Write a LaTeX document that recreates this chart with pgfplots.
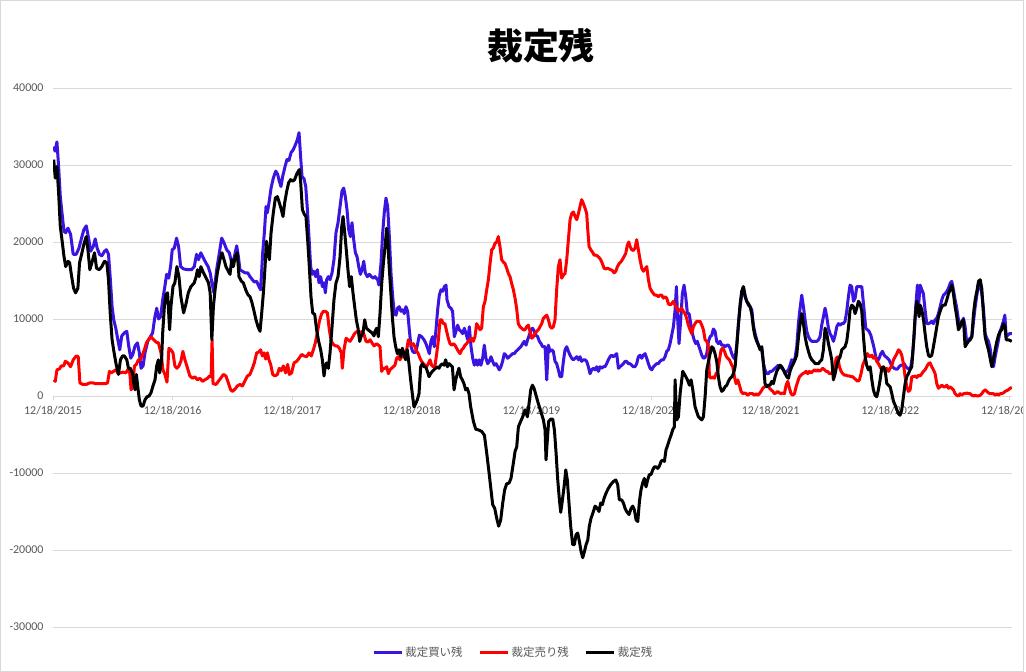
\documentclass[border=0pt]{standalone}
\usepackage{fontspec}
\setmainfont{Carlito}
\newfontfamily\cjk{Noto Sans CJK JP}
\usepackage{pgfplots}
\usepackage{pgfplotstable}
\pgfplotsset{compat=1.18}
\definecolor{gridgray}{HTML}{D9D9D9}
\definecolor{labgray}{HTML}{595959}
\definecolor{serblue}{RGB}{60,20,225}
\definecolor{serred}{RGB}{255,0,0}

\pgfplotstableread[row sep=\\]{x y\\
0.006 32400\\ 0.017 31800\\ 0.033 33000\\ 0.047 29800\\ 0.061 25900\\ 0.075 23800\\ 0.092 21400\\ 0.106 21200\\ 0.125 21800\\ 0.147 21000\\
0.169 18400\\ 0.194 18400\\ 0.217 19200\\ 0.242 20700\\ 0.258 21600\\ 0.278 22100\\ 0.300 20300\\ 0.314 18800\\ 0.336 19400\\ 0.353 20400\\
0.369 19200\\ 0.389 18400\\ 0.408 18200\\ 0.431 18800\\ 0.447 19000\\ 0.464 18400\\ 0.478 15500\\ 0.494 11600\\ 0.508 9900\\ 0.525 8800\\
0.542 7300\\ 0.558 6000\\ 0.575 7800\\ 0.597 8200\\ 0.617 8400\\ 0.633 6500\\ 0.650 4900\\ 0.667 5400\\ 0.686 6500\\ 0.706 6900\\
0.722 5600\\ 0.736 3600\\ 0.753 3900\\ 0.769 5600\\ 0.792 7100\\ 0.814 7700\\ 0.833 8200\\ 0.850 10100\\ 0.867 11400\\ 0.883 10000\\
0.900 10300\\ 0.917 12500\\ 0.933 14000\\ 0.950 15800\\ 0.967 15300\\ 0.983 16800\\ 0.997 19000\\ 1.014 19200\\ 1.033 20500\\ 1.050 19400\\
1.067 16800\\ 1.092 16500\\ 1.125 16400\\ 1.158 16400\\ 1.181 16800\\ 1.200 18400\\ 1.217 17700\\ 1.236 18600\\ 1.258 17900\\ 1.278 17300\\
1.297 16800\\ 1.314 16000\\ 1.328 14700\\ 1.346 13400\\ 1.368 16400\\ 1.391 18600\\ 1.410 20500\\ 1.430 19900\\ 1.452 19000\\ 1.474 18600\\
1.488 17700\\ 1.502 16800\\ 1.516 18100\\ 1.536 19500\\ 1.550 18100\\ 1.563 16400\\ 1.583 16200\\ 1.605 16000\\ 1.628 16000\\ 1.647 15500\\
1.667 15100\\ 1.683 14800\\ 1.703 14900\\ 1.722 14200\\ 1.736 13800\\ 1.753 18600\\ 1.767 21200\\ 1.781 24600\\ 1.792 23800\\ 1.806 25100\\
1.823 27000\\ 1.842 28300\\ 1.862 29200\\ 1.878 28800\\ 1.892 27900\\ 1.906 27200\\ 1.920 28500\\ 1.940 29800\\ 1.956 30700\\ 1.973 30600\\
1.990 31600\\ 2.009 32000\\ 2.026 32600\\ 2.043 33300\\ 2.057 34200\\ 2.071 30900\\ 2.082 28500\\ 2.099 28200\\ 2.113 27200\\ 2.127 24200\\
2.140 20700\\ 2.154 16800\\ 2.168 15800\\ 2.182 16200\\ 2.196 15500\\ 2.210 16400\\ 2.224 14700\\ 2.238 15500\\ 2.252 14200\\ 2.266 14700\\
2.277 13400\\ 2.288 15100\\ 2.302 15500\\ 2.316 15100\\ 2.333 16000\\ 2.349 17700\\ 2.366 21200\\ 2.383 22500\\ 2.400 24600\\ 2.416 26600\\
2.430 27000\\ 2.444 25900\\ 2.458 24200\\ 2.472 21600\\ 2.486 20700\\ 2.500 22500\\ 2.514 20300\\ 2.528 18600\\ 2.542 18100\\ 2.556 16800\\
2.570 15800\\ 2.584 16400\\ 2.598 17500\\ 2.611 16000\\ 2.628 15500\\ 2.645 15800\\ 2.662 15500\\ 2.678 15300\\ 2.692 15500\\ 2.714 15100\\
2.725 14400\\ 2.742 17200\\ 2.756 21100\\ 2.770 23900\\ 2.784 25700\\ 2.798 24600\\ 2.812 20700\\ 2.826 15900\\ 2.840 12900\\ 2.854 10700\\
2.868 10500\\ 2.881 11400\\ 2.895 11600\\ 2.909 11000\\ 2.923 11200\\ 2.937 10700\\ 2.951 11600\\ 2.965 11000\\ 2.979 8600\\ 2.993 6400\\
3.007 5800\\ 3.021 5600\\ 3.035 5800\\ 3.049 6800\\ 3.063 7900\\ 3.082 7700\\ 3.102 7300\\ 3.118 6800\\ 3.132 6200\\ 3.146 5500\\
3.160 7100\\ 3.174 7700\\ 3.188 6400\\ 3.202 8600\\ 3.216 11200\\ 3.230 13100\\ 3.244 13800\\ 3.258 13600\\ 3.272 14200\\ 3.286 14400\\
3.294 12500\\ 3.311 11600\\ 3.327 11400\\ 3.341 11000\\ 3.355 7700\\ 3.369 8400\\ 3.383 9200\\ 3.397 8600\\ 3.411 8400\\ 3.425 8100\\
3.439 8800\\ 3.453 8100\\ 3.467 7300\\ 3.481 9000\\ 3.495 6400\\ 3.509 4900\\ 3.523 4000\\ 3.537 4700\\ 3.550 4000\\ 3.564 4700\\
3.578 4000\\ 3.592 4900\\ 3.606 6600\\ 3.620 4900\\ 3.634 4200\\ 3.648 4500\\ 3.662 5100\\ 3.676 4500\\ 3.690 4000\\ 3.704 4200\\
3.718 3800\\ 3.731 3400\\ 3.745 3800\\ 3.759 4500\\ 3.773 5500\\ 3.787 5300\\ 3.801 4900\\ 3.815 5100\\ 3.829 5300\\ 3.843 5500\\
3.857 5500\\ 3.871 5800\\ 3.885 6000\\ 3.898 6200\\ 3.912 6400\\ 3.927 6800\\ 3.940 7100\\ 3.955 6600\\ 3.968 7300\\ 3.982 7900\\
3.996 8600\\ 4.010 8800\\ 4.024 8400\\ 4.038 7900\\ 4.052 7700\\ 4.066 7100\\ 4.080 6800\\ 4.094 6400\\ 4.114 6400\\ 4.128 2100\\
4.142 6600\\ 4.156 5800\\ 4.170 6000\\ 4.183 5800\\ 4.197 4500\\ 4.211 4200\\ 4.225 3400\\ 4.239 2500\\ 4.253 2500\\ 4.267 4500\\
4.281 6000\\ 4.295 6400\\ 4.309 5800\\ 4.323 5300\\ 4.337 4900\\ 4.351 4700\\ 4.365 4900\\ 4.379 5100\\ 4.393 4700\\ 4.406 5100\\
4.420 4500\\ 4.434 4700\\ 4.448 4700\\ 4.462 4500\\ 4.476 3800\\ 4.490 2900\\ 4.504 3400\\ 4.518 3600\\ 4.532 3400\\ 4.546 3800\\
4.560 3200\\ 4.574 3800\\ 4.588 3600\\ 4.601 3800\\ 4.615 3800\\ 4.629 4200\\ 4.643 4700\\ 4.657 5100\\ 4.671 5300\\ 4.685 5100\\
4.699 5300\\ 4.713 5500\\ 4.727 3600\\ 4.741 3800\\ 4.755 4000\\ 4.769 4200\\ 4.783 4500\\ 4.796 4500\\ 4.810 4200\\ 4.824 4200\\
4.838 4000\\ 4.852 3800\\ 4.866 3800\\ 4.880 4200\\ 4.894 5100\\ 4.908 5300\\ 4.922 4900\\ 4.936 5300\\ 4.950 5500\\ 4.964 4900\\
4.978 4200\\ 4.992 3600\\ 5.006 3400\\ 5.020 3800\\ 5.033 4000\\ 5.047 4200\\ 5.061 4200\\ 5.075 4500\\ 5.089 4700\\ 5.103 4700\\
5.117 5100\\ 5.131 5800\\ 5.145 6000\\ 5.159 6800\\ 5.173 7900\\ 5.187 9000\\ 5.201 11200\\ 5.212 14200\\ 5.223 9900\\ 5.234 6800\\
5.248 9900\\ 5.262 13300\\ 5.276 14400\\ 5.290 12900\\ 5.304 10700\\ 5.318 10700\\ 5.332 9400\\ 5.346 8100\\ 5.360 7300\\ 5.374 6800\\
5.387 7100\\ 5.401 6400\\ 5.410 6000\\ 5.424 5300\\ 5.438 4900\\ 5.452 5000\\ 5.466 5500\\ 5.480 7100\\ 5.494 7700\\ 5.508 7900\\
5.521 8700\\ 5.535 8400\\ 5.549 7100\\ 5.563 6800\\ 5.577 7100\\ 5.591 6600\\ 5.605 6600\\ 5.619 6400\\ 5.633 6600\\ 5.647 6600\\
5.661 6200\\ 5.675 5500\\ 5.689 5000\\ 5.703 4800\\ 5.717 6800\\ 5.731 9400\\ 5.745 11600\\ 5.758 13100\\ 5.772 14200\\ 5.786 13100\\
5.800 12300\\ 5.814 11800\\ 5.828 11600\\ 5.842 11200\\ 5.856 9200\\ 5.870 8100\\ 5.884 7300\\ 5.898 6600\\ 5.912 6200\\ 5.926 6000\\
5.940 4200\\ 5.953 3400\\ 5.967 2900\\ 5.981 2900\\ 5.995 3200\\ 6.009 3200\\ 6.023 3400\\ 6.037 3600\\ 6.051 3800\\ 6.065 4000\\
6.079 3800\\ 6.093 3600\\ 6.107 3400\\ 6.121 2900\\ 6.135 3200\\ 6.149 3400\\ 6.162 4000\\ 6.176 4700\\ 6.190 4500\\ 6.204 4900\\
6.218 6400\\ 6.232 9400\\ 6.246 11400\\ 6.260 13100\\ 6.274 11600\\ 6.288 9900\\ 6.302 8400\\ 6.316 7700\\ 6.330 7300\\ 6.344 7100\\
6.358 7100\\ 6.372 7100\\ 6.386 7100\\ 6.400 7300\\ 6.413 7700\\ 6.427 9200\\ 6.441 10300\\ 6.455 11400\\ 6.469 10300\\ 6.483 8800\\
6.497 8100\\ 6.511 7700\\ 6.525 7100\\ 6.539 7900\\ 6.553 9000\\ 6.567 9400\\ 6.581 9200\\ 6.595 9400\\ 6.608 9400\\ 6.622 9700\\
6.636 11000\\ 6.650 12900\\ 6.664 14400\\ 6.678 14200\\ 6.692 12300\\ 6.706 12700\\ 6.720 14200\\ 6.734 14200\\ 6.748 14200\\ 6.762 14200\\
6.781 11200\\ 6.795 8800\\ 6.809 8600\\ 6.823 8400\\ 6.837 7900\\ 6.851 7100\\ 6.865 6200\\ 6.879 5100\\ 6.893 4500\\ 6.907 4900\\
6.921 5500\\ 6.935 5800\\ 6.949 5300\\ 6.963 5100\\ 6.977 4900\\ 6.990 4700\\ 7.004 4200\\ 7.018 3800\\ 7.032 3600\\ 7.046 3500\\
7.060 3500\\ 7.074 3800\\ 7.088 4000\\ 7.102 4000\\ 7.116 4200\\ 7.130 3800\\ 7.144 3600\\ 7.158 3500\\ 7.172 3800\\ 7.186 5300\\
7.200 7900\\ 7.213 11600\\ 7.227 14400\\ 7.238 12000\\ 7.250 14400\\ 7.264 13800\\ 7.277 13300\\ 7.291 11200\\ 7.305 9400\\ 7.319 9400\\
7.333 9500\\ 7.347 9700\\ 7.361 9400\\ 7.375 9900\\ 7.389 10100\\ 7.403 10700\\ 7.417 11600\\ 7.431 12500\\ 7.445 13100\\ 7.459 13300\\
7.473 13600\\ 7.487 14000\\ 7.500 14600\\ 7.514 14900\\ 7.528 13800\\ 7.542 12500\\ 7.556 11400\\ 7.570 9900\\ 7.584 9000\\ 7.598 9400\\
7.612 10100\\ 7.626 9000\\ 7.640 6800\\ 7.654 7300\\ 7.668 7500\\ 7.682 7700\\ 7.696 9700\\ 7.710 11600\\ 7.724 13100\\ 7.738 14600\\
7.752 14400\\ 7.765 13300\\ 7.779 11400\\ 7.793 8100\\ 7.807 7500\\ 7.821 7100\\ 7.835 6200\\ 7.849 4700\\ 7.863 3800\\ 7.877 5100\\
7.891 6200\\ 7.905 7300\\ 7.919 8400\\ 7.932 9000\\ 7.946 9700\\ 7.958 10500\\ 7.969 7700\\ 7.983 7900\\ 7.997 8100\\ 8.017 8100\\
}\tblue

\pgfplotstableread[row sep=\\]{x y\\
0.006 2100\\ 0.019 1900\\ 0.033 3400\\ 0.053 3500\\ 0.069 3900\\ 0.089 3900\\ 0.103 4500\\ 0.125 4300\\ 0.147 3800\\ 0.169 4700\\
0.194 5200\\ 0.211 5100\\ 0.225 1700\\ 0.250 1500\\ 0.278 1500\\ 0.306 1700\\ 0.333 1700\\ 0.361 1600\\ 0.389 1600\\ 0.417 1600\\
0.439 1600\\ 0.456 1700\\ 0.472 3200\\ 0.486 3000\\ 0.506 3200\\ 0.525 3400\\ 0.542 3000\\ 0.564 3000\\ 0.586 3100\\ 0.608 3000\\
0.625 3400\\ 0.642 3000\\ 0.653 800\\ 0.667 1300\\ 0.681 3900\\ 0.697 4100\\ 0.714 4700\\ 0.731 4700\\ 0.744 5200\\ 0.764 6000\\
0.781 6900\\ 0.803 7400\\ 0.819 7700\\ 0.842 7300\\ 0.861 7000\\ 0.881 6900\\ 0.903 5600\\ 0.919 3400\\ 0.936 2800\\ 0.953 1800\\
0.969 6200\\ 0.986 6000\\ 1.003 5600\\ 1.019 3900\\ 1.036 3600\\ 1.053 3900\\ 1.069 4500\\ 1.086 5800\\ 1.103 4700\\ 1.125 3600\\
1.144 2600\\ 1.167 2300\\ 1.186 2500\\ 1.208 2100\\ 1.228 2300\\ 1.250 1900\\ 1.269 2100\\ 1.292 2300\\ 1.308 2600\\ 1.322 2500\\
1.330 7300\\ 1.338 1600\\ 1.363 1500\\ 1.382 1900\\ 1.402 2300\\ 1.424 2800\\ 1.446 2600\\ 1.466 1700\\ 1.485 800\\ 1.502 600\\
1.522 900\\ 1.541 1300\\ 1.563 1500\\ 1.583 1300\\ 1.603 1900\\ 1.625 2600\\ 1.647 2800\\ 1.667 3600\\ 1.683 4300\\ 1.703 5600\\
1.720 5700\\ 1.736 6000\\ 1.750 5200\\ 1.764 5600\\ 1.778 4800\\ 1.792 5600\\ 1.806 4700\\ 1.820 4100\\ 1.837 2800\\ 1.856 2600\\
1.876 2800\\ 1.892 3600\\ 1.909 3300\\ 1.926 3900\\ 1.945 3000\\ 1.962 4100\\ 1.976 2800\\ 1.995 3000\\ 2.015 4300\\ 2.037 4500\\
2.057 4900\\ 2.079 5400\\ 2.099 5200\\ 2.121 5100\\ 2.140 5600\\ 2.160 5200\\ 2.177 6000\\ 2.193 6900\\ 2.210 8200\\ 2.227 9700\\
2.244 10600\\ 2.260 11000\\ 2.277 11000\\ 2.294 10800\\ 2.310 8600\\ 2.327 7100\\ 2.344 6700\\ 2.361 6500\\ 2.377 6500\\ 2.394 6200\\
2.411 5600\\ 2.419 3600\\ 2.433 6000\\ 2.450 7500\\ 2.466 7300\\ 2.483 7100\\ 2.500 7500\\ 2.517 8000\\ 2.533 8300\\ 2.550 8400\\
2.567 8200\\ 2.584 8400\\ 2.600 8000\\ 2.617 7100\\ 2.634 7000\\ 2.651 7300\\ 2.667 6900\\ 2.684 6500\\ 2.706 6800\\ 2.720 6600\\
2.734 6400\\ 2.748 3200\\ 2.762 3600\\ 2.776 3600\\ 2.790 3800\\ 2.804 2900\\ 2.817 3400\\ 2.831 3600\\ 2.845 3800\\ 2.859 4000\\
2.873 4900\\ 2.887 5100\\ 2.901 4700\\ 2.915 5100\\ 2.929 5300\\ 2.943 4900\\ 2.957 6000\\ 2.971 7300\\ 2.985 6800\\ 2.998 6600\\
3.012 6800\\ 3.026 6400\\ 3.040 5800\\ 3.054 5500\\ 3.068 4900\\ 3.082 4500\\ 3.096 4200\\ 3.110 4000\\ 3.124 3800\\ 3.138 4200\\
3.152 4700\\ 3.166 4000\\ 3.180 3800\\ 3.194 4000\\ 3.208 5500\\ 3.222 7300\\ 3.236 9900\\ 3.249 9900\\ 3.263 9400\\ 3.277 9400\\
3.291 8400\\ 3.305 7500\\ 3.319 6800\\ 3.333 6600\\ 3.347 6800\\ 3.361 6600\\ 3.375 6200\\ 3.389 5800\\ 3.403 5500\\ 3.417 6000\\
3.431 6200\\ 3.444 6600\\ 3.458 6800\\ 3.472 7100\\ 3.486 7300\\ 3.500 7500\\ 3.514 7100\\ 3.528 7700\\ 3.542 9400\\ 3.556 9000\\
3.570 8600\\ 3.584 8800\\ 3.598 11600\\ 3.612 12300\\ 3.626 13800\\ 3.640 15100\\ 3.654 17200\\ 3.668 19000\\ 3.681 19200\\ 3.695 19800\\
3.709 20000\\ 3.723 20700\\ 3.737 19400\\ 3.751 17700\\ 3.765 17400\\ 3.779 17200\\ 3.793 16600\\ 3.807 15900\\ 3.821 15500\\ 3.835 14600\\
3.849 13800\\ 3.863 12700\\ 3.876 11400\\ 3.890 9400\\ 3.904 9000\\ 3.918 8800\\ 3.932 8600\\ 3.946 8600\\ 3.960 9000\\ 3.974 9200\\
3.988 8400\\ 4.002 7500\\ 4.016 7700\\ 4.030 8100\\ 4.044 8400\\ 4.058 8600\\ 4.072 9000\\ 4.086 9400\\ 4.100 10100\\ 4.114 10300\\
4.128 10500\\ 4.142 9900\\ 4.156 9000\\ 4.170 8800\\ 4.183 9000\\ 4.197 9900\\ 4.211 13800\\ 4.225 16800\\ 4.239 17700\\ 4.253 15300\\
4.267 15700\\ 4.281 15900\\ 4.295 17700\\ 4.309 20300\\ 4.323 22900\\ 4.337 23700\\ 4.351 23900\\ 4.365 23300\\ 4.379 22900\\ 4.393 23700\\
4.406 24600\\ 4.420 25500\\ 4.434 25000\\ 4.448 24400\\ 4.462 23700\\ 4.471 21600\\ 4.482 19400\\ 4.496 19000\\ 4.510 18700\\ 4.524 18300\\
4.537 18300\\ 4.551 18200\\ 4.565 18000\\ 4.579 17700\\ 4.593 17200\\ 4.607 16600\\ 4.621 16500\\ 4.635 16600\\ 4.649 16500\\ 4.663 16400\\
4.677 16300\\ 4.691 16000\\ 4.705 16200\\ 4.719 16800\\ 4.733 17200\\ 4.747 17400\\ 4.760 17700\\ 4.774 18100\\ 4.788 18500\\ 4.802 19600\\
4.814 20000\\ 4.825 19400\\ 4.838 19000\\ 4.852 18900\\ 4.866 19200\\ 4.880 20300\\ 4.894 19000\\ 4.908 17700\\ 4.922 16600\\ 4.936 16200\\
4.950 16500\\ 4.964 16800\\ 4.978 15100\\ 4.992 14000\\ 5.006 13600\\ 5.020 13300\\ 5.033 13100\\ 5.047 13100\\ 5.061 12900\\ 5.075 13100\\
5.089 13100\\ 5.103 12700\\ 5.117 12900\\ 5.131 12700\\ 5.145 12000\\ 5.159 11800\\ 5.173 12000\\ 5.187 12300\\ 5.201 11800\\ 5.215 11400\\
5.228 11000\\ 5.242 11200\\ 5.256 11400\\ 5.270 11000\\ 5.284 10700\\ 5.298 10100\\ 5.312 9200\\ 5.326 8600\\ 5.340 8100\\ 5.354 9000\\
5.368 9400\\ 5.382 9700\\ 5.396 9700\\ 5.410 9700\\ 5.424 9200\\ 5.438 8600\\ 5.452 7300\\ 5.466 7100\\ 5.480 6400\\ 5.488 2500\\
5.502 2300\\ 5.516 2500\\ 5.530 2300\\ 5.544 2900\\ 5.558 3200\\ 5.572 4700\\ 5.586 6000\\ 5.600 6200\\ 5.614 5800\\ 5.627 5200\\
5.641 4900\\ 5.655 4700\\ 5.669 4200\\ 5.683 3800\\ 5.697 2500\\ 5.711 1600\\ 5.725 2100\\ 5.739 1400\\ 5.753 600\\ 5.767 300\\
5.781 400\\ 5.795 300\\ 5.809 100\\ 5.822 300\\ 5.836 300\\ 5.850 300\\ 5.864 100\\ 5.878 300\\ 5.892 100\\ 5.906 300\\
5.920 600\\ 5.934 1000\\ 5.948 1200\\ 5.962 1300\\ 5.976 1400\\ 5.990 1000\\ 6.004 800\\ 6.018 600\\ 6.031 300\\ 6.045 400\\
6.059 600\\ 6.073 400\\ 6.087 300\\ 6.101 400\\ 6.115 300\\ 6.129 1400\\ 6.143 1900\\ 6.157 1000\\ 6.171 300\\ 6.185 100\\
6.199 300\\ 6.213 1200\\ 6.227 1900\\ 6.241 2500\\ 6.254 2700\\ 6.268 2900\\ 6.282 3000\\ 6.296 3200\\ 6.310 2900\\ 6.324 3200\\
6.338 3000\\ 6.352 3200\\ 6.366 3400\\ 6.380 3200\\ 6.394 3400\\ 6.408 3200\\ 6.422 3400\\ 6.436 3600\\ 6.450 3400\\ 6.463 3200\\
6.477 3200\\ 6.491 2900\\ 6.505 2900\\ 6.519 3200\\ 6.533 3400\\ 6.547 4900\\ 6.561 5100\\ 6.575 3800\\ 6.589 3200\\ 6.603 2900\\
6.617 2700\\ 6.631 2700\\ 6.645 2600\\ 6.659 2600\\ 6.672 2500\\ 6.686 2500\\ 6.700 2300\\ 6.714 2100\\ 6.728 1900\\ 6.742 2100\\
6.756 2900\\ 6.770 4000\\ 6.790 4800\\ 6.809 5500\\ 6.826 5100\\ 6.846 5300\\ 6.859 4900\\ 6.873 5100\\ 6.887 4500\\ 6.901 4200\\
6.915 3800\\ 6.929 3400\\ 6.943 3200\\ 6.957 3400\\ 6.971 3600\\ 6.985 3200\\ 6.999 3600\\ 7.013 4000\\ 7.027 4700\\ 7.041 5100\\
7.055 5500\\ 7.069 6000\\ 7.082 5800\\ 7.096 5300\\ 7.110 4200\\ 7.124 2500\\ 7.138 1200\\ 7.152 600\\ 7.166 800\\ 7.180 2500\\
7.194 2500\\ 7.208 2600\\ 7.222 2400\\ 7.236 2700\\ 7.250 2600\\ 7.264 2900\\ 7.278 3200\\ 7.291 3400\\ 7.305 3800\\ 7.319 4200\\
7.333 4300\\ 7.347 3800\\ 7.361 3400\\ 7.375 2900\\ 7.389 1600\\ 7.403 1000\\ 7.417 1200\\ 7.431 1400\\ 7.445 1200\\ 7.459 1200\\
7.473 1400\\ 7.487 1000\\ 7.500 1200\\ 7.514 1000\\ 7.528 800\\ 7.542 300\\ 7.556 100\\ 7.570 0\\ 7.584 300\\ 7.598 100\\
7.612 300\\ 7.626 300\\ 7.640 400\\ 7.654 300\\ 7.668 300\\ 7.682 100\\ 7.696 0\\ 7.710 100\\ 7.724 0\\ 7.738 0\\
7.752 100\\ 7.765 300\\ 7.779 600\\ 7.793 800\\ 7.807 600\\ 7.821 400\\ 7.835 300\\ 7.849 300\\ 7.863 300\\ 7.877 100\\
7.891 300\\ 7.905 100\\ 7.919 300\\ 7.932 300\\ 7.946 400\\ 7.960 600\\ 7.974 700\\ 7.988 800\\ 8.002 1000\\ 8.017 1100\\
}\tred

\pgfplotstableread[row sep=\\]{x y\\
0.006 30700\\ 0.019 28300\\ 0.033 29800\\ 0.047 26400\\ 0.061 22000\\ 0.075 20300\\ 0.092 18100\\ 0.106 16800\\ 0.125 17500\\ 0.139 17300\\
0.153 15800\\ 0.172 14000\\ 0.189 13400\\ 0.208 14000\\ 0.222 17300\\ 0.242 18600\\ 0.258 19700\\ 0.278 20700\\ 0.292 19000\\ 0.308 16400\\
0.325 17300\\ 0.347 18600\\ 0.364 16600\\ 0.386 16400\\ 0.408 16800\\ 0.431 17500\\ 0.450 17300\\ 0.464 15100\\ 0.478 10800\\ 0.494 7300\\
0.511 5600\\ 0.528 4100\\ 0.547 2800\\ 0.564 4700\\ 0.581 5200\\ 0.597 5200\\ 0.617 4700\\ 0.631 3600\\ 0.647 3600\\ 0.664 3000\\
0.675 1700\\ 0.686 800\\ 0.697 2800\\ 0.708 1300\\ 0.722 -500\\ 0.736 -1300\\ 0.753 -1300\\ 0.769 -500\\ 0.786 -100\\ 0.803 0\\
0.819 400\\ 0.836 1300\\ 0.853 2100\\ 0.867 3900\\ 0.881 4700\\ 0.892 3000\\ 0.908 4700\\ 0.917 8200\\ 0.931 11600\\ 0.944 13200\\
0.958 13400\\ 0.975 8600\\ 0.986 11600\\ 1.003 14200\\ 1.019 14700\\ 1.036 16800\\ 1.053 15500\\ 1.069 12900\\ 1.092 10800\\ 1.111 11900\\
1.131 13400\\ 1.153 14200\\ 1.181 14700\\ 1.197 15500\\ 1.208 16400\\ 1.222 15500\\ 1.236 16800\\ 1.258 16000\\ 1.281 15300\\ 1.300 14700\\
1.314 13400\\ 1.328 7300\\ 1.341 11600\\ 1.355 13800\\ 1.374 16000\\ 1.396 17700\\ 1.413 18600\\ 1.430 17700\\ 1.446 16800\\ 1.466 16200\\
1.480 15800\\ 1.494 17700\\ 1.508 16800\\ 1.524 18100\\ 1.541 18600\\ 1.555 15500\\ 1.575 14900\\ 1.591 14700\\ 1.611 13800\\ 1.628 13200\\
1.647 12900\\ 1.664 12100\\ 1.681 11000\\ 1.697 9900\\ 1.714 9000\\ 1.731 8400\\ 1.745 10800\\ 1.759 13400\\ 1.773 16800\\ 1.784 20100\\
1.798 18600\\ 1.809 17700\\ 1.823 21200\\ 1.842 23800\\ 1.859 25700\\ 1.876 25900\\ 1.892 25100\\ 1.909 24200\\ 1.923 23300\\ 1.937 25100\\
1.954 26600\\ 1.970 27700\\ 1.987 28100\\ 2.004 27900\\ 2.020 28100\\ 2.037 28800\\ 2.051 29200\\ 2.060 29400\\ 2.071 27700\\ 2.085 24200\\
2.101 23600\\ 2.115 23300\\ 2.129 20300\\ 2.143 16800\\ 2.157 12900\\ 2.171 10800\\ 2.188 10600\\ 2.204 8600\\ 2.221 7100\\ 2.238 6000\\
2.252 4700\\ 2.266 2600\\ 2.277 3900\\ 2.288 4300\\ 2.302 3600\\ 2.316 5600\\ 2.333 9000\\ 2.349 12500\\ 2.366 14700\\ 2.383 15500\\
2.400 18100\\ 2.414 22000\\ 2.425 23300\\ 2.439 21200\\ 2.452 19000\\ 2.466 16400\\ 2.480 14200\\ 2.494 15500\\ 2.508 13400\\ 2.522 11600\\
2.536 9900\\ 2.550 8800\\ 2.564 7100\\ 2.578 7800\\ 2.592 8200\\ 2.606 9900\\ 2.620 8800\\ 2.634 8600\\ 2.651 8400\\ 2.667 8200\\
2.684 7800\\ 2.692 8400\\ 2.706 8800\\ 2.720 7700\\ 2.734 10700\\ 2.748 14600\\ 2.762 17200\\ 2.776 19400\\ 2.790 21800\\ 2.798 20700\\
2.809 17200\\ 2.823 13800\\ 2.837 10300\\ 2.851 7700\\ 2.865 6400\\ 2.879 5500\\ 2.893 6000\\ 2.907 5100\\ 2.921 6200\\ 2.935 5500\\
2.948 4700\\ 2.962 6000\\ 2.976 4200\\ 2.990 2100\\ 3.004 300\\ 3.018 -1400\\ 3.032 -1000\\ 3.046 -500\\ 3.060 300\\ 3.074 3800\\
3.088 4200\\ 3.102 3800\\ 3.116 3800\\ 3.130 3200\\ 3.144 2500\\ 3.157 2900\\ 3.171 3200\\ 3.185 3400\\ 3.199 3600\\ 3.213 3800\\
3.227 3600\\ 3.241 4000\\ 3.255 4200\\ 3.269 4000\\ 3.283 4700\\ 3.297 3800\\ 3.311 4200\\ 3.325 4000\\ 3.339 3800\\ 3.353 800\\
3.367 2100\\ 3.380 2900\\ 3.394 3600\\ 3.408 2500\\ 3.422 2100\\ 3.436 1600\\ 3.450 800\\ 3.464 1000\\ 3.478 300\\ 3.492 -1400\\
3.515 -3300\\ 3.534 -4300\\ 3.556 -4400\\ 3.584 -4600\\ 3.607 -5100\\ 3.626 -7400\\ 3.646 -10000\\ 3.662 -12200\\ 3.676 -14100\\ 3.693 -14600\\
3.710 -15900\\ 3.726 -16900\\ 3.743 -16100\\ 3.760 -13900\\ 3.776 -12200\\ 3.793 -11400\\ 3.813 -11300\\ 3.829 -10700\\ 3.849 -8700\\ 3.863 -7200\\
3.877 -6600\\ 3.891 -4000\\ 3.910 -3300\\ 3.927 -2700\\ 3.947 -1800\\ 3.966 -2700\\ 3.980 -1000\\ 3.994 800\\ 4.008 1400\\ 4.022 1000\\
4.038 100\\ 4.058 -1000\\ 4.078 -2000\\ 4.100 -3100\\ 4.114 -4400\\ 4.122 -8300\\ 4.133 -5700\\ 4.144 -3300\\ 4.161 -3000\\ 4.178 -3000\\
4.192 -4400\\ 4.206 -7400\\ 4.220 -10900\\ 4.234 -13500\\ 4.245 -15100\\ 4.259 -13500\\ 4.273 -11800\\ 4.287 -9600\\ 4.300 -10900\\ 4.314 -13900\\
4.328 -16900\\ 4.345 -19300\\ 4.359 -19300\\ 4.373 -18000\\ 4.387 -17800\\ 4.401 -18900\\ 4.415 -20200\\ 4.429 -21000\\ 4.443 -20200\\ 4.457 -19300\\
4.471 -18700\\ 4.484 -16900\\ 4.498 -15900\\ 4.518 -15000\\ 4.532 -14300\\ 4.546 -14500\\ 4.565 -15000\\ 4.579 -13900\\ 4.593 -14100\\ 4.607 -13300\\
4.624 -12600\\ 4.643 -12000\\ 4.663 -11500\\ 4.685 -11100\\ 4.705 -10900\\ 4.721 -11500\\ 4.735 -13500\\ 4.755 -13500\\ 4.769 -13900\\ 4.783 -14600\\
4.796 -15000\\ 4.816 -15400\\ 4.833 -14600\\ 4.847 -14300\\ 4.861 -14800\\ 4.875 -16100\\ 4.889 -16300\\ 4.903 -13700\\ 4.916 -12200\\ 4.930 -11300\\
4.944 -10700\\ 4.958 -11800\\ 4.972 -10900\\ 4.986 -10200\\ 5.000 -10200\\ 5.014 -9600\\ 5.028 -9200\\ 5.042 -9200\\ 5.056 -9400\\ 5.070 -9100\\
5.084 -8500\\ 5.098 -8300\\ 5.112 -8500\\ 5.125 -7000\\ 5.139 -6400\\ 5.153 -5700\\ 5.167 -5100\\ 5.181 -4400\\ 5.195 -4000\\ 5.201 2100\\
5.215 -3100\\ 5.229 -2700\\ 5.243 300\\ 5.265 3200\\ 5.284 2700\\ 5.304 2100\\ 5.321 1400\\ 5.335 2100\\ 5.349 800\\ 5.368 -1400\\
5.396 -2700\\ 5.424 -3100\\ 5.438 -2700\\ 5.452 -100\\ 5.466 3400\\ 5.488 5100\\ 5.508 6400\\ 5.521 6200\\ 5.535 5500\\ 5.549 4500\\
5.563 2500\\ 5.577 1200\\ 5.591 600\\ 5.605 800\\ 5.619 1200\\ 5.633 1400\\ 5.647 1900\\ 5.661 2300\\ 5.675 2500\\ 5.689 2900\\
5.703 3800\\ 5.717 6400\\ 5.731 9400\\ 5.745 12000\\ 5.758 13600\\ 5.772 14200\\ 5.786 12900\\ 5.800 12300\\ 5.814 12000\\ 5.828 11600\\
5.842 10700\\ 5.856 8800\\ 5.870 7700\\ 5.884 7100\\ 5.898 6600\\ 5.912 6000\\ 5.926 6400\\ 5.940 4200\\ 5.953 1600\\ 5.967 1200\\
5.981 1400\\ 5.995 1400\\ 6.009 1900\\ 6.023 1600\\ 6.037 2500\\ 6.051 3200\\ 6.065 3600\\ 6.079 4000\\ 6.093 3800\\ 6.107 3400\\
6.121 2900\\ 6.135 2500\\ 6.149 2300\\ 6.162 3200\\ 6.176 3800\\ 6.190 4200\\ 6.204 4700\\ 6.218 5300\\ 6.232 7500\\ 6.246 9400\\
6.260 10700\\ 6.274 9400\\ 6.288 7700\\ 6.302 6600\\ 6.316 5800\\ 6.330 5100\\ 6.344 4700\\ 6.358 4500\\ 6.372 4200\\ 6.386 4200\\
6.400 4200\\ 6.413 4500\\ 6.427 4700\\ 6.441 6000\\ 6.455 8800\\ 6.469 8100\\ 6.483 6800\\ 6.497 5800\\ 6.511 4700\\ 6.525 2100\\
6.539 2900\\ 6.553 4000\\ 6.567 4700\\ 6.581 5100\\ 6.595 6000\\ 6.608 6200\\ 6.622 6400\\ 6.636 7100\\ 6.650 8800\\ 6.664 11200\\
6.678 11800\\ 6.692 11600\\ 6.706 10700\\ 6.720 11400\\ 6.734 12300\\ 6.748 12000\\ 6.762 11000\\ 6.776 7700\\ 6.790 5100\\ 6.803 4000\\
6.817 3400\\ 6.832 3800\\ 6.846 2100\\ 6.859 800\\ 6.873 100\\ 6.887 -100\\ 6.901 800\\ 6.915 2100\\ 6.929 3600\\ 6.943 3800\\
6.957 3400\\ 6.971 1600\\ 6.985 1400\\ 6.999 1200\\ 7.013 300\\ 7.027 -700\\ 7.041 -1200\\ 7.055 -1800\\ 7.069 -2300\\ 7.082 -2500\\
7.096 -1800\\ 7.110 -100\\ 7.124 1600\\ 7.138 2500\\ 7.152 2900\\ 7.166 3400\\ 7.180 3800\\ 7.194 6800\\ 7.208 10300\\ 7.222 12300\\
7.230 11600\\ 7.241 10300\\ 7.250 11800\\ 7.264 11200\\ 7.278 9900\\ 7.291 8100\\ 7.305 6400\\ 7.319 5300\\ 7.333 5100\\ 7.347 5300\\
7.361 6400\\ 7.375 7700\\ 7.389 9000\\ 7.403 10300\\ 7.417 11000\\ 7.431 11600\\ 7.445 11800\\ 7.459 11800\\ 7.473 12500\\ 7.487 13300\\
7.500 13800\\ 7.514 14400\\ 7.528 13300\\ 7.542 11600\\ 7.556 10300\\ 7.570 8600\\ 7.584 9000\\ 7.598 9700\\ 7.612 9900\\ 7.626 6400\\
7.640 6800\\ 7.654 7100\\ 7.668 7300\\ 7.682 7700\\ 7.696 10700\\ 7.710 12500\\ 7.724 13600\\ 7.738 14900\\ 7.752 15100\\ 7.765 14000\\
7.779 10700\\ 7.793 7700\\ 7.807 6800\\ 7.821 6000\\ 7.835 4900\\ 7.849 3800\\ 7.863 4700\\ 7.877 6000\\ 7.891 7100\\ 7.905 7900\\
7.919 8400\\ 7.932 8600\\ 7.946 9400\\ 7.960 9000\\ 7.969 7300\\ 7.988 7300\\ 8.016 7100\\
}\tblack

\begin{document}
\begin{tikzpicture}[x=1bp,y=1bp]
\useasboundingbox (0,0) rectangle (1026,672);
\fill[white] (0,0) rectangle (1026,672);
\begin{scope}
\clip (1,1) rectangle (1023,671);
\begin{axis}[
  at={(53bp,45bp)}, anchor=south west,
  scale only axis, width=959bp, height=539bp,
  xmin=0, xmax=8.018, ymin=-30000, ymax=40000,
  axis x line=middle, axis y line=left,
  hide obscured x ticks=false, hide obscured y ticks=false,
  x axis line style={draw=gridgray, line width=0.8pt, -},
  y axis line style={draw=none},
  xtick={0,1,2,3,4,5,6,7,8},
  xticklabels={12/18/2015,12/18/2016,12/18/2017,12/18/2018,12/18/2019,12/18/2020,12/18/2021,12/18/2022,12/18/2023},
  tick align=outside, major tick length=4bp,
  xtick style={draw=gridgray, line width=0.8pt},
  ytick={-30000,-20000,-10000,0,10000,20000,30000,40000},
  ytick style={draw=none},
  ymajorgrids, grid style={draw=gridgray, line width=0.8pt},
  scaled y ticks=false,
  yticklabel style={/pgf/number format/1000 sep={}, /pgf/number format/assume math mode=true},
  ticklabel style={font=\fontsize{12}{14}\selectfont, text=labgray},
  xticklabel style={yshift=-3bp},
  yticklabel style={xshift=-2bp},
  legend style={at={(0.48,-0.0464)}, anchor=center, legend columns=3, draw=none, fill=none,
    font=\cjk\fontsize{11.5}{13}\selectfont, text=labgray,
    /tikz/every even column/.append style={column sep=14bp}},
  legend image code/.code={\draw[#1, line width=3bp] (0bp,0bp) -- (28bp,0bp);},
  every axis plot/.append style={no markers, line width=3bp, line join=round},
]
\addplot[serblue] table[x=x,y=y] {\tblue};
\addlegendentry{裁定買い残}
\addplot[serred] table[x=x,y=y] {\tred};
\addlegendentry{裁定売り残}
\addplot[black] table[x=x,y=y] {\tblack};
\addlegendentry{裁定残}
\end{axis}
\end{scope}
\node[font=\cjk\bfseries\fontsize{36}{42}\selectfont, text=black] at (541,626) {裁定残};
\draw[gridgray, line width=1bp] (0.5,0.5) rectangle (1023.5,671.5);
\end{tikzpicture}
\end{document}
